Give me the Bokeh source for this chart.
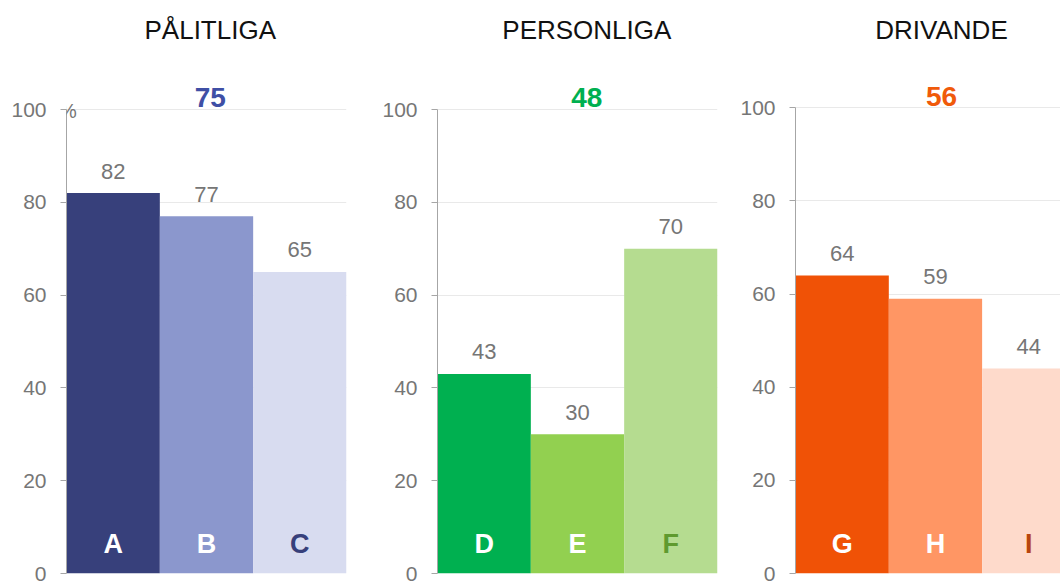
from bokeh.plotting import figure
from bokeh.layouts import row
from bokeh.models import FixedTicker, Range1d, Label
from bokeh.core.properties import value
from bokeh.embed import file_html
from bokeh.resources import INLINE

# ---- data ----
titles = ["PÅLITLIGA", "PERSONLIGA", "DRIVANDE"]
totals = [75, 48, 56]
cats_1 = ["A", "B", "C"]
cats_2 = ["D", "E", "F"]
cats_3 = ["G", "H", "I"]
vals_1 = [82, 77, 65]
vals_2 = [43, 30, 70]
vals_3 = [64, 59, 44]
y_ticks = [0, 20, 40, 60, 80, 100]

# ---- styles ----
FONT = "Liberation Sans"
bar_colors = [["#37407b", "#8b97cd", "#d8dcf0"],
              ["#00b050", "#92d050", "#b5dc90"],
              ["#f05206", "#ff9664", "#fedacb"]]
letter_colors = [["white", "white", "#37407b"],
                 ["white", "white", "#5f9a2f"],
                 ["white", "white", "#b8450f"]]
total_colors = ["#3f4fa5", "#00b050", "#f05a0a"]

# layout per panel:
# (width, border_left, border_right, x_end, zero_px, px_per_unit, border_bottom, title_x)
layouts = [
    (360, 66, 14, 3.0, 573, 4.64, 8, 1.54),
    (360, 77, 3, 3.0, 573, 4.64, 8, 1.60),
    (340, 75, 0, 2.84, 577, 4.69, 4, 1.565),
]
TITLE_PX = 29.5   # vertical centre of the panel titles (screen px from top)
TOTAL_PX = 97.0   # vertical centre of the big totals

all_cats = [cats_1, cats_2, cats_3]
all_vals = [vals_1, vals_2, vals_3]

figs = []
for i in range(3):
    w, bl, br, xend, zero_px, ppu, bb, tx = layouts[i]
    yend = zero_px / ppu
    cats = all_cats[i]
    vals = all_vals[i]
    xs = [k + 0.5 for k in range(len(vals))]
    p = figure(width=w, height=zero_px + bb, output_backend="svg",
               toolbar_location=None,
               x_range=Range1d(0, xend), y_range=Range1d(0, yend),
               x_axis_location=None, min_border_left=bl, min_border_right=br,
               min_border_top=0, min_border_bottom=bb)
    p.outline_line_color = None
    p.background_fill_color = "white"
    p.border_fill_color = "white"

    p.vbar(x=xs, top=vals, bottom=0, width=1.0, fill_color=bar_colors[i],
           line_color=None)

    p.text(x=xs, y=vals, text=[str(v) for v in vals], text_align="center",
           text_baseline="middle", y_offset=-22, text_font=value(FONT),
           text_font_size="22px", text_color="#767676")
    p.text(x=xs, y=[0] * len(vals), text=cats, text_align="center",
           text_baseline="middle", y_offset=-30, text_font=value(FONT),
           text_font_size="27px", text_font_style="bold",
           text_color=letter_colors[i])
    p.text(x=[tx], y=[(zero_px - TITLE_PX) / ppu], text=[titles[i]],
           text_align="center", text_baseline="middle",
           text_font=value(FONT), text_font_size="26px", text_color="#111111")
    p.text(x=[tx], y=[(zero_px - TOTAL_PX) / ppu], text=[str(totals[i])],
           text_align="center", text_baseline="middle",
           text_font=value(FONT), text_font_size="28px",
           text_font_style="bold", text_color=total_colors[i])

    ax = p.yaxis[0]
    ax.ticker = FixedTicker(ticks=y_ticks)
    ax.bounds = (0, 100)
    ax.axis_line_color = "#a6a6a6"
    ax.major_tick_line_color = "#a6a6a6"
    ax.minor_tick_line_color = None
    ax.major_tick_out = 6
    ax.major_tick_in = 0
    ax.major_label_standoff = 14
    ax.major_label_text_font = FONT
    ax.major_label_text_font_size = "21px"
    ax.major_label_text_color = "#767676"

    p.xgrid.grid_line_color = None
    p.ygrid.ticker = FixedTicker(ticks=y_ticks)
    p.ygrid.grid_line_color = "#e9e9e9"

    if i == 0:
        p.add_layout(Label(x=0, y=(zero_px - 110.5) / ppu, text="%",
                           text_align="center", text_baseline="middle",
                           x_offset=1.5, text_font=FONT,
                           text_font_size="20px", text_color="#767676"))
    figs.append(p)

layout = row(*figs)
open("out.html", "w").write(file_html(layout, INLINE))
